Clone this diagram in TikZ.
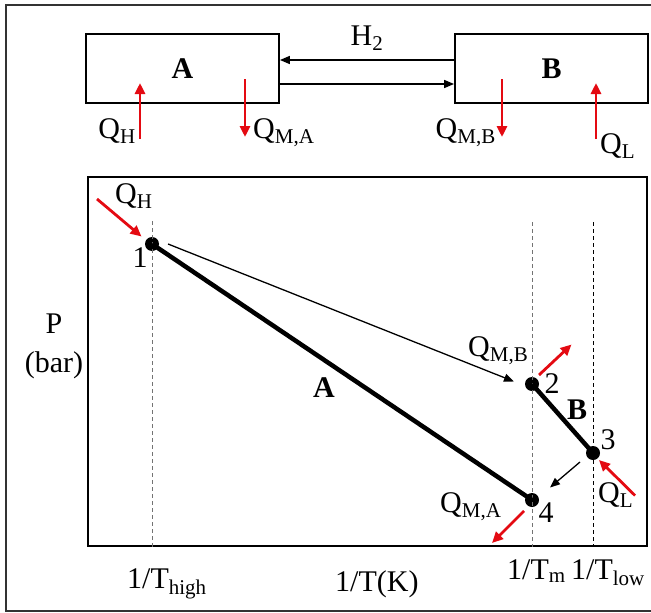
\documentclass[tikz,border=0pt]{standalone}
\usepackage{fontspec}
\setmainfont{Liberation Serif}
\usepackage{tikz}
\usetikzlibrary{arrows.meta, positioning}
\definecolor{heatred}{RGB}{228,10,18}
\colorlet{guidegray}{black!55}

\begin{document}
\begin{tikzpicture}[x=1pt, y=-1pt, >={Triangle[length=10pt, width=8pt]},
    every node/.style={font=\fontsize{30}{36}\selectfont, inner sep=0pt},
    bedbox/.style={draw, line width=1.8pt, minimum width=193pt, minimum height=69pt},
    heat/.style={->, heatred, line width=2.8pt, >={Triangle[length=11pt, width=10pt]}},
    statept/.style={circle, fill, minimum size=14pt},
    proc/.style={line width=4.5pt},
    guide/.style={dashed, guidegray, line width=1pt, dash pattern=on 4pt off 3pt}]
    \useasboundingbox (0,0) rectangle (651,613);
    \draw[line width=2pt, black!80] (651,5) -- (6,5) -- (6,611) -- (651,611);

    % reactors and hydrogen flow
    \node[bedbox] (bedA) at (182.5,68.5) {\textbf{A}};
    \node[bedbox] (bedB) at (551.5,68.5) {\textbf{B}};
    \draw[->, line width=1.5pt] ([yshift=8.5pt]bedB.west) -- ([yshift=8.5pt]bedA.east);
    \draw[->, line width=1.5pt] ([yshift=-15.5pt]bedA.east) -- ([yshift=-15.5pt]bedB.west);
    \node (htwo) at (367,38) {H\textsubscript{2}};

    \coordinate (qhA) at (140,139);
    \coordinate (qmaA) at (245,79);
    \coordinate (qmbB) at (502,79);
    \coordinate (qlB) at (596,139);
    \draw[heat] (qhA) -- ++(0,-56);
    \draw[heat] (qmaA) -- ++(0,58);
    \draw[heat] (qmbB) -- ++(0,58);
    \draw[heat] (qlB) -- ++(0,-56);
    \node[anchor=base east] at (136,138) {Q\textsubscript{H}};
    \node[anchor=base west] at (253,138) {Q\textsubscript{M,A}};
    \node[anchor=base east] at (496,138) {Q\textsubscript{M,B}};
    \node[anchor=base west] at (600,153) {Q\textsubscript{L}};

    % van 't Hoff plot
    \node[draw, line width=1.8pt, minimum width=559pt, minimum height=369pt] (plot) at (367.5,361.5) {};
    \node[statept] (p1) at (152,244) {};
    \node[statept] (p2) at (532,384) {};
    \node[statept] (p3) at (593,453) {};
    \node[statept] (p4) at (532,500) {};

    \draw[guide] (p1 |- 0,221) -- (p1 |- plot.south);
    \draw[guide] (p2 |- 0,222) -- (p2 |- plot.south);
    \draw[guide, black] (p3 |- 0,222) -- (p3 |- plot.south);

    \draw[proc] (p1.center) -- (p4.center);
    \draw[proc] (p2.center) -- (p3.center);
    \draw[->, line width=1.3pt] ([xshift=16pt]p1.center) -- ([xshift=-18pt, yshift=2.5pt]p2.center);
    \draw[->, line width=1.3pt] ([xshift=-13pt, yshift=-9pt]p3.center) -- ([xshift=18pt, yshift=12.5pt]p4.center);

    \coordinate (qh1) at (97,199);
    \coordinate (qmb2) at (571.5,344.5);
    \coordinate (ql3) at (635,495.5);
    \coordinate (qma4) at (492,543);
    \draw[heat] (qh1) -- ([xshift=-10.5pt, yshift=7.5pt]p1.center);
    \draw[heat] ([xshift=7pt, yshift=9pt]p2.center) -- (qmb2);
    \draw[heat] (ql3) -- ([xshift=6pt, yshift=-7pt]p3.center);
    \draw[heat] ([xshift=-8pt, yshift=-11pt]p4.center) -- (qma4);

    \node at (140,258) {1};
    \node at (552,384) {2};
    \node at (608,440) {3};
    \node at (546,513) {4};
    \node at (324,388) {\textbf{A}};
    \node at (577,410) {\textbf{B}};
    \node[anchor=base west] at (115,203) {Q\textsubscript{H}};
    \node[anchor=base west] at (468,356) {Q\textsubscript{M,B}};
    \node[anchor=base west] at (598,502) {Q\textsubscript{L}};
    \node[anchor=base west] at (440,512) {Q\textsubscript{M,A}};

    % axes
    \node[anchor=base] at (54,333) {P};
    \node[anchor=base] at (54,372) {(bar)};
    \node[anchor=base west] at (127,588) {1/T\textsubscript{high}};
    \node[anchor=base west] at (335,591) {1/T(K)};
    \node[anchor=base west] at (507,579) {1/T\textsubscript{m}};
    \node[anchor=base west] at (571,579) {1/T\textsubscript{low}};
\end{tikzpicture}
\end{document}
